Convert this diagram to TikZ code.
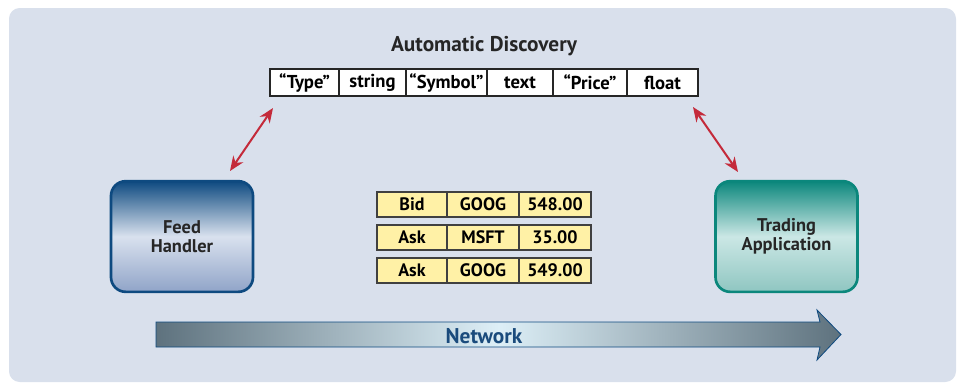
\documentclass[tikz,border=0pt]{standalone}
\usepackage{fontspec}
\setmainfont{PT Sans}
\usepackage{tikz}
\usetikzlibrary{arrows.meta}

\definecolor{bgblue}{HTML}{D9E0EC}
\definecolor{feedblue}{HTML}{0E4A80}
\definecolor{feedmid}{HTML}{D9E1EE}
\definecolor{feedlow}{HTML}{90A4C8}
\definecolor{tradeteal}{HTML}{0B877C}
\definecolor{trademid}{HTML}{CBE7E5}
\definecolor{tradelow}{HTML}{8FC6C1}
\definecolor{recyellow}{HTML}{FFF1A6}
\definecolor{arrowred}{HTML}{C42A3A}
\definecolor{netdark}{HTML}{5E727E}
\definecolor{netlight}{HTML}{DDEFF7}
\definecolor{nettext}{HTML}{1A4B7C}

\tikzset{
  cell/.style={draw=black!85, fill=white, line width=0.9pt, minimum height=20.25pt, inner sep=0pt, font=\bfseries\fontsize{14}{16}\selectfont},
  rec/.style={draw=black!75, fill=recyellow, line width=0.9pt, minimum height=18.75pt, inner sep=0pt, font=\bfseries\fontsize{13.5}{15}\selectfont},
  app/.style={rounded corners=11pt, line width=2pt, minimum width=106.5pt, minimum height=83pt, align=center, font=\bfseries\fontsize{13.8}{14}\selectfont, text=black!85},
  link/.style={arrowred, line width=1.5pt, {Stealth[length=11pt,width=9pt]}-{Stealth[length=11pt,width=9pt]}}
}

\begin{document}
\begin{tikzpicture}[x=0.75pt, y=-0.75pt]
\useasboundingbox (0,0) rectangle (957,383);
\fill[bgblue, rounded corners=8pt] (9,8) rectangle (956,382);

\node[font=\bfseries\fontsize{16}{18}\selectfont, text=black!85] (title) at (484,46) {Automatic Discovery};

\node[cell, minimum width=51.75pt] (t1) at (304.5,82.5) {``Type''};
\node[cell, minimum width=50.25pt] (t2) at (372.5,82.5) {string};
\node[cell, minimum width=60.75pt] (t3) at (446.5,82.5) {``Symbol''};
\node[cell, minimum width=49.5pt] (t4) at (520,82.5) {text};
\node[cell, minimum width=55.5pt] (t5) at (590,82.5) {``Price''};
\node[cell, minimum width=53.25pt] (t6) at (662.5,82.5) {float};

\node[app, draw=feedblue, top color=feedblue, bottom color=feedlow, middle color=feedmid] (feed) at (182,236.5) {Feed\\Handler};
\node[app, draw=tradeteal, top color=tradeteal, bottom color=tradelow, middle color=trademid] (trade) at (786.5,236.5) {Trading\\Application};

\begin{scope}[every node/.style={rec}]
  \node[minimum width=52.5pt] (a1) at (412,204.5) {Bid};
  \node[minimum width=54pt] (a2) at (483,204.5) {GOOG};
  \node[minimum width=54pt] (a3) at (555,204.5) {548.00};
  \node[minimum width=52.5pt] (b1) at (412,237.5) {Ask};
  \node[minimum width=54pt] (b2) at (483,237.5) {MSFT};
  \node[minimum width=54pt] (b3) at (555,237.5) {35.00};
  \node[minimum width=52.5pt] (c1) at (412,270.5) {Ask};
  \node[minimum width=54pt] (c2) at (483,270.5) {GOOG};
  \node[minimum width=54pt] (c3) at (555,270.5) {549.00};
\end{scope}

\coordinate (feedtip) at (230,171);
\coordinate (typetip) at (273,108);
\coordinate (pricetip) at (693,107);
\coordinate (tradetip) at (738,172);
\draw[link] (feedtip) -- (typetip);
\draw[link] (pricetip) -- (tradetip);

\shade[left color=netdark, right color=netdark, middle color=netlight, draw=feedblue, line width=0.6pt]
  (156,322) -- (820,322) -- (817,310) -- (841,334.5) -- (817,360) -- (820,347) -- (156,347) -- cycle;
\node[font=\bfseries\fontsize{16}{18}\selectfont, text=nettext] (net) at (484,336) {Network};

\end{tikzpicture}
\end{document}
